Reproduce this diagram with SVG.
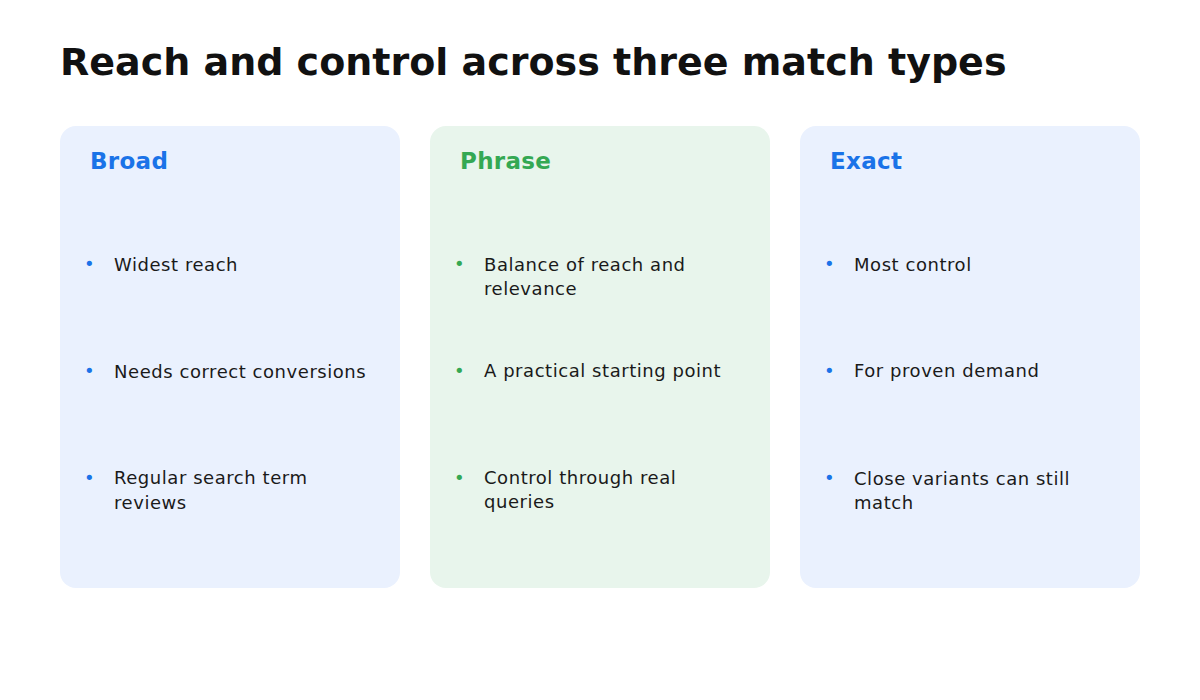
<svg xmlns="http://www.w3.org/2000/svg" width="1200" height="700" viewBox="0 0 1200 700">
<style>
text{font-family:"DejaVu Sans",sans-serif}
.t{font-size:38px;font-weight:bold;fill:#111}
.h{font-size:23px;font-weight:bold;letter-spacing:0.3px}
.b{font-size:18px;fill:#1a1a1a;letter-spacing:0.55px}
.blue{fill:#1A73E8}.green{fill:#34A853}
.cb{fill:#EAF1FE}.cg{fill:#E8F5EC}
</style>
<rect width="1200" height="700" fill="#fff"/>
<text class="t" x="60" y="75">Reach and control across three match types</text>
<g id="broad">
<rect class="cb" x="60" y="126" width="340" height="462" rx="16"/>
<text class="h blue" x="90" y="169">Broad</text>
<text class="b blue" x="84" y="270">•</text><text class="b" x="114" y="271">Widest reach</text>
<text class="b blue" x="84" y="377">•</text><text class="b" x="114" y="378">Needs correct conversions</text>
<text class="b blue" x="84" y="484">•</text><text class="b" x="114" y="484">Regular search term</text><text class="b" x="114" y="509">reviews</text>
</g>
<g id="phrase">
<rect class="cg" x="430" y="126" width="340" height="462" rx="16"/>
<text class="h green" x="460" y="169">Phrase</text>
<text class="b green" x="454" y="270">•</text><text class="b" x="484" y="271">Balance of reach and</text><text class="b" x="484" y="295">relevance</text>
<text class="b green" x="454" y="377">•</text><text class="b" x="484" y="377">A practical starting point</text>
<text class="b green" x="454" y="484">•</text><text class="b" x="484" y="484">Control through real</text><text class="b" x="484" y="508">queries</text>
</g>
<g id="exact">
<rect class="cb" x="800" y="126" width="340" height="462" rx="16"/>
<text class="h blue" x="830" y="169">Exact</text>
<text class="b blue" x="824" y="270">•</text><text class="b" x="854" y="271">Most control</text>
<text class="b blue" x="824" y="377">•</text><text class="b" x="854" y="377">For proven demand</text>
<text class="b blue" x="824" y="484">•</text><text class="b" x="854" y="485">Close variants can still</text><text class="b" x="854" y="509">match</text>
</g>
<g id="connectors"/>
</svg>
